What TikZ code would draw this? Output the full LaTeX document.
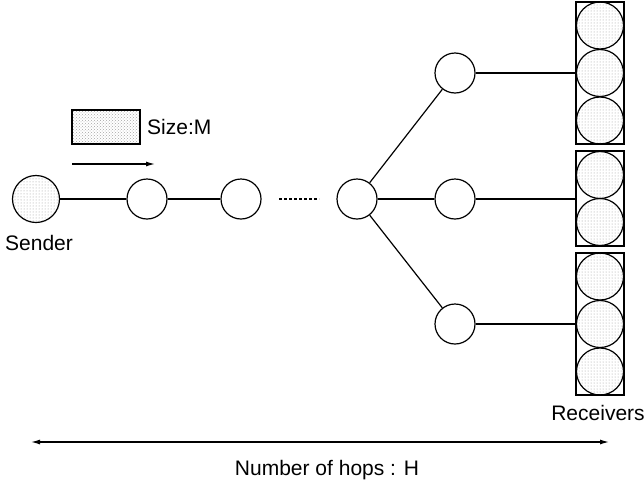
\documentclass[tikz,border=0pt]{standalone}
\usepackage{fontspec}
\setmainfont{Liberation Sans}
\usetikzlibrary{patterns,arrows.meta}
\begin{document}
\begin{tikzpicture}[x=1pt,y=-1pt,line width=1.2pt,
  hop/.style={circle,draw,minimum size=40pt,inner sep=0pt},
  snd/.style={circle,draw,minimum size=47pt,inner sep=0pt,pattern=dots,pattern color=black!40},
  rcv/.style={circle,draw,minimum size=47pt,inner sep=0pt,pattern=dots,pattern color=black!40},
  grp/.style={draw,minimum width=48pt,inner sep=0pt},
  lbl/.style={font=\fontsize{21}{25}\selectfont,inner sep=0pt},
  tip/.style={-{Latex[length=9pt,width=5pt]}},
  dtip/.style={{Latex[length=9pt,width=5pt]}-{Latex[length=9pt,width=5pt]}},
  dots line/.style={dash pattern=on 3pt off 2pt}]
\useasboundingbox (0,0) rectangle (644,485);
% chain
\node[snd] (s) at (36,199) {};
\node[hop] (h1) at (147,199) {};
\node[hop] (h2) at (241,199) {};
\node[hop] (h3) at (357,199) {};
\node[hop] (u) at (455,73) {};
\node[hop] (m) at (455,199) {};
\node[hop] (l) at (455,324) {};
\coordinate (d1) at (279,199);
\coordinate (d2) at (319,199);
% receiver groups
\node[grp,minimum height=142pt] (b1) at (600,73) {};
\node[grp,minimum height=95pt] (b2) at (600,198.5) {};
\node[grp,minimum height=142pt] (b3) at (600,324) {};
\node[rcv] (r1) at (600,25.5) {};
\node[rcv] (r2) at (600,73) {};
\node[rcv] (r3) at (600,120.5) {};
\node[rcv] (r4) at (600,175) {};
\node[rcv] (r5) at (600,222) {};
\node[rcv] (r6) at (600,276.5) {};
\node[rcv] (r7) at (600,324) {};
\node[rcv] (r8) at (600,371.5) {};
% connectors
\draw (s) -- (h1);
\draw (h1) -- (h2);
\draw[dots line] (d1) -- (d2);
\draw (h3) -- (u);
\draw (h3) -- (m);
\draw (h3) -- (l);
\draw (u) -- (b1);
\draw (m) -- (b2.west |- m);
\draw (l) -- (b3);
% message
\node[draw,minimum width=68pt,minimum height=34pt,inner sep=0pt,pattern=crosshatch dots,pattern color=black!35] (msg) at (106,127) {};
\node[lbl,anchor=west] (size) at ([xshift=6pt]msg.east) {Size:M};
\coordinate (a1) at (72,164);
\coordinate (a2) at (155,164);
\draw[tip] (a1) -- (a2);
% labels
\node[lbl] (sl) at (39,243) {Sender};
\node[lbl] (rl) at (598,413) {Receivers};
\coordinate (h0) at (31,442);
\coordinate (hN) at (609,442);
\draw[dtip] (h0) -- (hN);
\node[lbl] (hl) at (327,470) {Number of hops : H};
\end{tikzpicture}
\end{document}
